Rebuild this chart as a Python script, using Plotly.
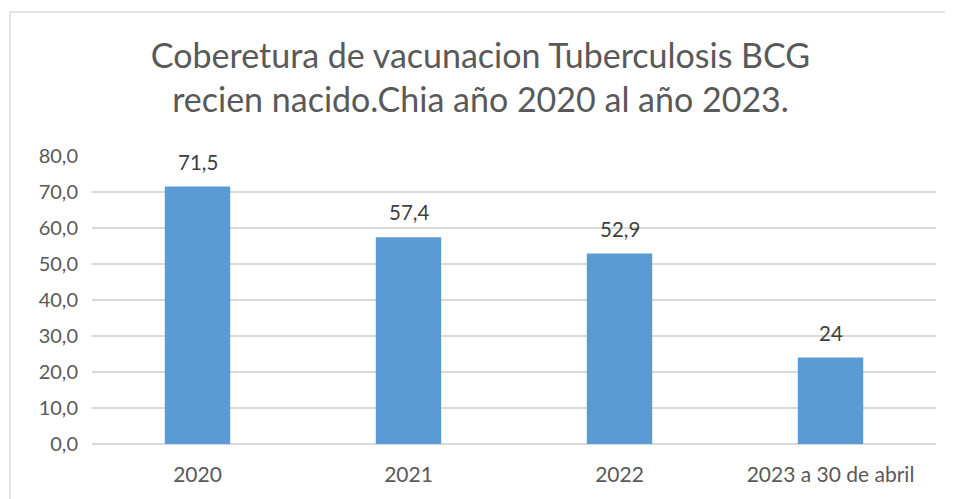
import plotly.graph_objects as go

categories = ["2020", "2021", "2022", "2023 a 30 de abril"]
values = [71.5, 57.4, 52.9, 24]
value_labels = ["71,5", "57,4", "52,9", "24"]
tick_values = [0, 10, 20, 30, 40, 50, 60, 70, 80]

OFF = 8  # page body margin
W, H = 953 - OFF, 499 - OFF
L, R, T, B = 92 - OFF, 17, 156 - OFF, 55
pw, ph = W - L - R, H - T - B

def px_x(p):
    return (p - OFF - L) / pw

def px_y(p):
    return (H - B - (p - OFF)) / ph

fig = go.Figure(go.Bar(
    x=categories, y=values,
    marker=dict(color="#5b9bd5", line=dict(width=0)),
    hoverinfo="skip",
))

annotations = [
    dict(x=i, y=v, text=t, xref="x", yref="y", showarrow=False,
         yanchor="bottom", yshift=11,
         font=dict(size=20.5, color="#404040", family="Lato"))
    for i, (v, t) in enumerate(zip(values, value_labels))
]

fig.update_layout(
    width=W, height=H,
    margin=dict(l=L, r=R, t=T, b=B, pad=0),
    paper_bgcolor="white", plot_bgcolor="white",
    separators=",.",
    bargap=0.69,
    showlegend=False,
    font=dict(family="Lato", color="#595959"),
    title=dict(
        text="Coberetura de vacunacion Tuberculosis BCG<br>recien nacido.Chia año 2020 al año 2023.",
        x=0.5, xanchor="center", y=1 - 60 / H, yanchor="middle",
        font=dict(size=34, color="#595959", family="Lato"),
    ),
    xaxis=dict(type="category", categoryorder="array", categoryarray=categories,
               range=[-0.5, len(categories) - 0.5],
               showgrid=False, showline=False, ticks="", ticklabelstandoff=16,
               tickfont=dict(size=21, color="#595959")),
    yaxis=dict(range=[0, 80], tickvals=tick_values, tickformat=".1f",
               showgrid=True, gridcolor="#d9d9d9", gridwidth=1.5, zeroline=True,
               zerolinecolor="#d9d9d9", zerolinewidth=1.5, showline=False,
               ticks="", ticklabelstandoff=13, tickfont=dict(size=20, color="#595959")),
    annotations=annotations,
    shapes=[dict(type="rect", xref="paper", yref="paper",
                 x0=px_x(10), x1=px_x(975), y0=px_y(520), y1=px_y(12),
                 line=dict(color="#d9d9d9", width=1.5), layer="below")],
)
fig.update_xaxes(automargin=False)
fig.update_yaxes(automargin=False)

fig.write_html("out.html")
